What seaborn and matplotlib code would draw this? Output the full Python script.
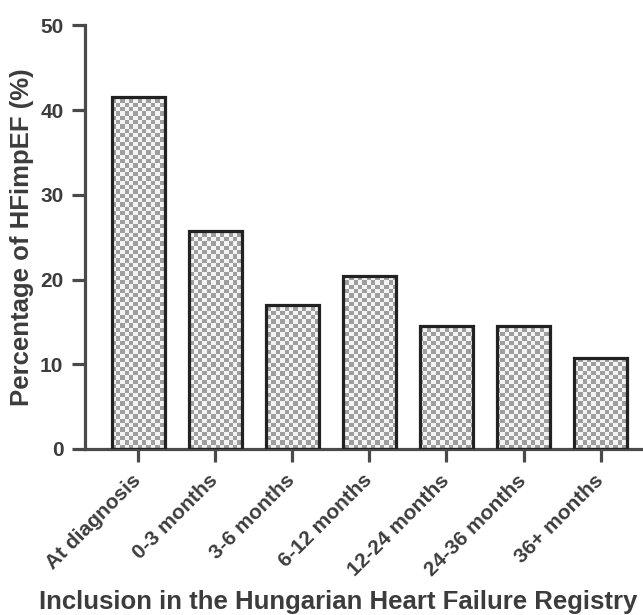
import numpy as np
import matplotlib
matplotlib.use("Agg")
import matplotlib.pyplot as plt
import seaborn as sns

# -------------------------------------------------------------------
# Data
# -------------------------------------------------------------------
categories = ["At diagnosis", "0-3 months", "3-6 months", "6-12 months",
              "12-24 months", "24-36 months", "36+ months"]
percentages = [41.6, 25.7, 17.0, 20.4, 14.5, 14.5, 10.8]

AXIS_COLOR = "#4a4a4a"
TEXT_COLOR = "#3c3c3c"
EDGE_COLOR = "#222222"
XLIM = (-0.69, 6.55)
YLIM = (0, 50)

sns.set_style("ticks")
plt.rcParams["font.family"] = ["Liberation Sans", "DejaVu Sans"]
plt.rcParams["font.weight"] = "bold"

fig = plt.figure(figsize=(6.43, 6.15), dpi=100)
ax = fig.add_axes([85 / 643, 166 / 615, 558 / 643, 423.5 / 615])

sns.barplot(x=categories, y=percentages, color="white", edgecolor=EDGE_COLOR,
            linewidth=2.3, width=0.69, ax=ax, zorder=3)

ax.set_xlim(*XLIM)
ax.set_ylim(*YLIM)
ax.set_yticks([0, 10, 20, 30, 40, 50])

# checkerboard fill clipped to each bar
sq = 4.3
ncols = int(558 / sq)
nrows = int(423.5 / sq)
board = (np.indices((nrows, ncols)).sum(axis=0) % 2).astype(float)
cmap = matplotlib.colors.ListedColormap(["#f4f4f4", "#9e9e9e"])
for patch in ax.patches:
    patch.set_facecolor("none")
    im = ax.imshow(board, cmap=cmap, interpolation="nearest", aspect="auto",
                   extent=(XLIM[0], XLIM[1], YLIM[0], YLIM[1]), zorder=2)
    im.set_clip_path(patch)
ax.set_xlim(*XLIM)
ax.set_ylim(*YLIM)

# axes styling
sns.despine(ax=ax)
for side in ["left", "bottom"]:
    ax.spines[side].set_color(AXIS_COLOR)
    ax.spines[side].set_linewidth(2.3)
ax.tick_params(axis="both", colors=AXIS_COLOR, width=2.3, length=9.5,
               labelcolor=TEXT_COLOR, labelsize=15)
ax.tick_params(axis="y", pad=6)
ax.tick_params(axis="x", pad=11)
for lab in ax.get_xticklabels():
    lab.set_rotation(45)
    lab.set_ha("right")
    lab.set_va("center")
    lab.set_rotation_mode("anchor")
    lab.set_fontweight("bold")
for lab in ax.get_yticklabels():
    lab.set_fontweight("bold")

ax.set_ylabel("Percentage of HFimpEF (%)", fontsize=18.5, fontweight="bold",
              color=TEXT_COLOR, va="center")
ax.set_xlabel("Inclusion in the Hungarian Heart Failure Registry", fontsize=18.5,
              fontweight="bold", color=TEXT_COLOR, va="center")
ax.yaxis.set_label_coords(-0.113, 0.5)
ax.xaxis.set_label_coords(0.453, -0.362)

fig.savefig("out.png", dpi=100, facecolor="white")
